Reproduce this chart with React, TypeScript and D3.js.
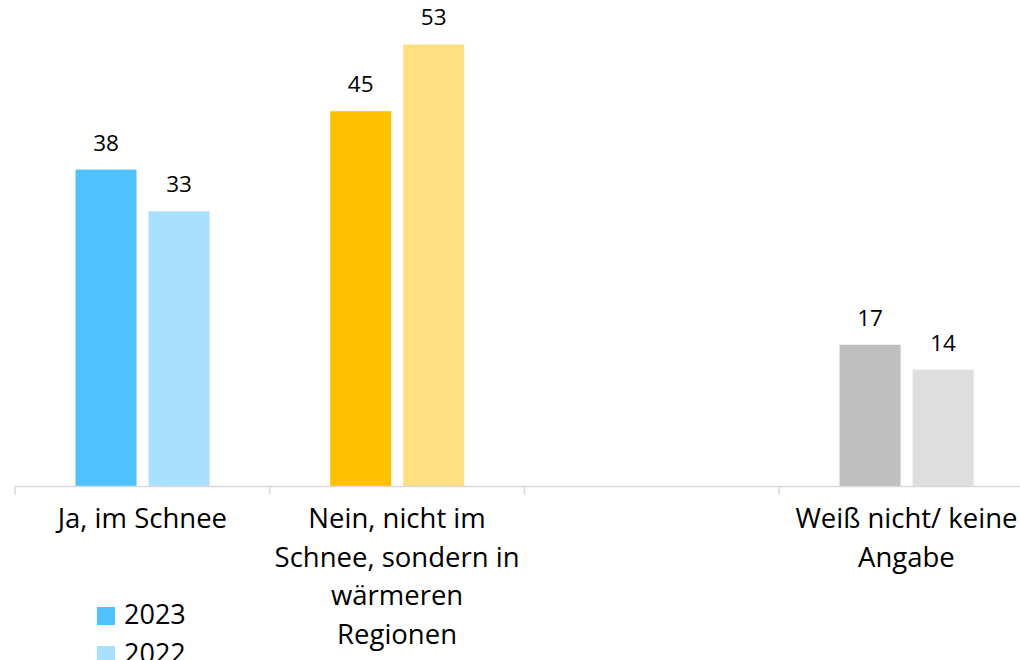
import React from "react";
import * as d3 from "d3";

const categories: string[][] = [
  ["Ja, im Schnee"],
  ["Nein, nicht im", "Schnee, sondern in", "wärmeren", "Regionen"],
  [],
  ["Weiß nicht/ keine", "Angabe"],
];
const categoryKeys = ["ja", "nein", "leer", "weissnicht"];
const series = ["2023", "2022"];
const values2023: (number | null)[] = [38, 45, null, 17];
const values2022: (number | null)[] = [33, 53, null, 14];
const colors2023 = ["#4FC1FF", "#FFC000", "#BFBFBF", "#BFBFBF"];
const colors2022 = ["#A9E0FF", "#FFDF80", "#DEDEDE", "#DEDEDE"];
const legendColors = ["#4FC1FF", "#A9E0FF"];

const W = 1020;
const H = 660;
const FONT = "'Open Sans', sans-serif";

export default function App() {
  const baseline = 486.5;
  const x = d3.scaleBand<string>().domain(categoryKeys).range([15, 15 + 4 * 254.7]).padding(0);
  const inner = d3
    .scaleBand<string>()
    .domain(series)
    .range([60.5, 194.5])
    .paddingInner(12 / 73)
    .paddingOuter(0);
  const y = d3.scaleLinear().domain([0, 58.4]).range([baseline, baseline - 58.4 * 8.34]);
  const seriesValues = [values2023, values2022];
  const seriesColors = [colors2023, colors2022];
  const ticks = [...categoryKeys.map((k) => x(k)!), x.range()[1]];

  return (
    <svg
      width={W}
      height={H}
      style={{ position: "absolute", left: 0, top: 0, background: "#fff" }}
      fontFamily={FONT}
    >
      {series.map((s, si) =>
        categoryKeys.map((k, ci) => {
          const v = seriesValues[si][ci];
          if (v == null) return null;
          const bx = x(k)! + inner(s)!;
          return (
            <g key={s + k}>
              <rect
                x={bx}
                y={y(v)}
                width={inner.bandwidth()}
                height={y(0) - y(v)}
                fill={seriesColors[si][ci]}
              />
              <text
                x={bx + inner.bandwidth() / 2}
                y={y(v) - 19}
                textAnchor="middle"
                fontSize={22.5}
                fill="#000"
              >
                {v}
              </text>
            </g>
          );
        })
      )}
      <line x1={x.range()[0]} x2={x.range()[1]} y1={baseline} y2={baseline} stroke="#D9D9D9" strokeWidth={1.5} />
      {ticks.map((t, i) => (
        <line key={i} x1={t} x2={t} y1={baseline} y2={baseline + 8} stroke="#D9D9D9" strokeWidth={1.5} />
      ))}
      {categoryKeys.map((k, ci) => (
        <text key={k} textAnchor="middle" fontSize={27.5} fill="#000">
          {categories[ci].map((line, li) => (
            <tspan key={li} x={x(k)! + x.bandwidth() / 2} y={528 + li * 38.5}>
              {line}
            </tspan>
          ))}
        </text>
      ))}
      {series.map((s, si) => (
        <g key={s} transform={`translate(97, ${607 + si * 39})`}>
          <rect x={0} y={0} width={18} height={18} fill={legendColors[si]} />
          <text x={27} y={17} fontSize={27} fill="#000">
            {s}
          </text>
        </g>
      ))}
    </svg>
  );
}
